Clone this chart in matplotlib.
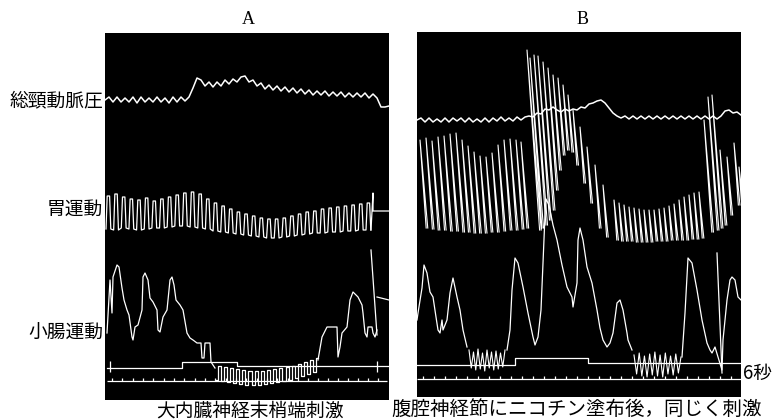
import numpy as np
import matplotlib.pyplot as plt

plt.rcParams['font.family'] = ['Noto Sans CJK JP', 'DejaVu Sans']

W, H = 774, 420
INK = 'white'

# x = position along the drum record, y = pen height on the record

# ---------------- A: 大内臓神経末梢端刺激 ----------------
bp_a = [100, 97, 102, 97, 102, 98, 102, 97, 103, 97, 102, 98, 102, 97, 102, 98, 103, 97, 102, 97, 101,
        97, 88, 78, 80, 86, 82, 87, 82, 86, 80, 84, 79, 82, 77, 76, 82, 80, 86, 83, 89, 85, 90, 86, 91,
        87, 92, 88, 93, 89, 94, 90, 95, 91, 95, 91, 96, 92, 96, 92, 97, 93, 97, 93, 97, 93, 98, 94, 98,
        107, 107, 106]
bp_a_span = (105, 389)

stomach_a_top = [196, 194, 197, 199, 200, 198, 201, 199, 197, 195, 193, 192,
                 194, 199, 203, 206, 209, 212,
                 214, 216, 218, 219, 219, 218, 216, 214,
                 212, 211, 209, 208, 207, 206, 205, 204, 203]
stomach_a_bottom = [229, 230, 228, 229, 230, 229, 228, 228, 227, 226, 226, 227,
                    228, 229, 231, 232, 233, 234,
                    235, 236, 237, 238, 238, 237, 236, 235,
                    234, 233, 233, 232, 232, 231, 231, 230, 230]
stomach_a_span = (106, 366)
stomach_a_tail_x = [371, 373, 373, 389]
stomach_a_tail_y = [230, 193, 211, 211]

intestine_a_x = [107, 110, 112, 113, 117, 119, 122, 124, 127, 129, 132, 133, 135, 138, 142, 143, 145,
                 148, 150, 153, 157, 158, 160, 163, 167, 170, 172, 174, 176, 180, 183, 187, 190, 193,
                 197, 201, 202, 204, 205, 210, 211, 213, 215]
intestine_a_y = [333, 280, 313, 277, 265, 267, 288, 300, 310, 315, 337, 340, 327, 325, 310, 277, 273,
                 280, 298, 302, 310, 330, 332, 317, 310, 280, 277, 285, 300, 305, 310, 333, 338, 340,
                 343, 343, 358, 358, 343, 343, 362, 365, 368]
intestine_a_osc = [380, 366, 381, 367, 382, 368, 383, 369, 384, 370, 385, 371, 385, 371, 385, 371, 384,
                   370, 383, 369, 382, 368, 381, 367, 380, 366, 378, 364, 376, 362, 374, 360, 372, 358]
intestine_a_osc_span = (216, 318)
intestine_a_x2 = [318, 322, 327, 337, 338, 340, 342, 347, 350, 353, 358, 362, 363, 365, 367, 368, 372,
                  373, 375, 377]
intestine_a_y2 = [360, 337, 327, 327, 357, 347, 333, 327, 300, 292, 297, 305, 313, 333, 337, 327, 327,
                  333, 337, 330]
intestine_a_pen_x = [371, 377]
intestine_a_pen_y = [250, 335]
intestine_a_tail_x = [377, 381, 389]
intestine_a_tail_y = [297, 298, 300]

signal_a_x = [107, 182, 182, 237, 237, 389]
signal_a_y = [368, 368, 362, 362, 366, 366]
signal_a_marks = [110, 377]
time_a_ticks = [112, 122, 133, 143, 153, 164, 174, 184, 195, 205, 215, 226, 236, 246, 257, 267, 277,
                288, 298, 308, 318, 328, 338, 348, 358, 368, 378]

# ---------------- B: 腹腔神経節にニコチン塗布後 ----------------
bp_b = [120, 118, 122, 118, 122, 119, 122, 118, 122, 118, 121, 118, 122, 118, 122, 119, 122, 118, 122,
        118, 121, 117, 121, 118, 121, 117, 120, 117,
        116, 117, 113, 114, 109, 110, 107, 110, 112, 109, 111, 109, 110, 107, 108, 104, 103, 101, 100,
        103, 108, 113, 116, 118, 116, 119, 116, 119, 116, 119, 116, 119, 116, 119, 116, 119, 116, 119,
        116, 119, 116, 119, 116, 119, 116, 119, 116, 119, 116, 111, 110, 113, 112, 115]
bp_b_span = (417, 741)

# stomach strokes: time of each contraction peak, peak height, relaxed height
stomach_b_t = [420, 426, 432, 438, 444, 450, 456, 462, 468, 474, 480, 486, 492, 498, 504, 510, 516, 521,
               527, 530, 534, 538, 543, 548, 553, 558, 563, 568, 573, 580, 587, 595, 603,
               614, 619, 624, 629, 634, 639, 644, 649, 654, 659, 664, 669, 674, 679, 684, 689, 694, 699,
               704, 708, 712, 720, 727, 734, 739]
stomach_b_top = [140, 138, 141, 137, 136, 134, 133, 140, 146, 152, 156, 157, 153, 145, 140, 139, 140, 142,
                 50, 58, 55, 56, 62, 68, 75, 78, 85, 95, 110, 127, 147, 165, 185,
                 200, 203, 205, 207, 208, 209, 210, 210, 210, 209, 208, 206, 204, 200, 197, 195, 193, 192,
                 120, 97, 95, 150, 157, 143, 167]
stomach_b_bottom = [228, 229, 230, 230, 231, 231, 232, 232, 233, 233, 233, 232, 232, 231, 230, 230, 229, 228,
                    230, 228, 225, 220, 210, 190, 170, 155, 150, 152, 165, 183, 203, 228, 237,
                    240, 241, 241, 241, 242, 242, 242, 242, 241, 241, 241, 240, 240, 240, 240, 239, 239, 238,
                    232, 230, 228, 225, 215, 205, 200]

intestine_b_x1 = [417, 418, 422, 424, 427, 430, 433, 436, 438, 440, 442, 443, 447, 450, 453, 457, 460,
                  463, 467]
intestine_b_y1 = [320, 313, 288, 265, 273, 292, 297, 317, 330, 333, 320, 330, 320, 293, 278, 297, 310,
                  330, 347]
intestine_b_osc1 = [350, 368, 352, 370, 349, 369, 353, 371, 350, 368, 352, 370, 351, 369, 353, 367, 350]
intestine_b_osc1_span = (469, 505)
intestine_b_x2 = [507, 510, 512, 515, 518, 523, 528, 533, 535, 538, 541, 543, 545, 546, 549, 553, 557,
                  562, 567, 572, 573, 577, 578, 580, 583, 587, 592, 597, 600, 603, 607, 610, 613, 617,
                  620, 623, 627, 628, 632]
intestine_b_y2 = [350, 330, 290, 258, 263, 287, 313, 337, 345, 337, 310, 263, 215, 199, 205, 225, 240,
                  265, 287, 297, 307, 283, 240, 228, 240, 267, 283, 310, 328, 340, 347, 343, 333, 303,
                  300, 310, 333, 340, 350]
intestine_b_osc2 = [355, 374, 353, 376, 356, 377, 354, 375, 352, 376, 355, 377, 353, 374, 356, 375, 354,
                    373, 357]
intestine_b_osc2_span = (634, 681)
intestine_b_x3 = [682, 685, 688, 692, 697, 702, 707, 710, 712, 715, 718, 722, 723, 727, 730, 732, 735,
                  738, 741]
intestine_b_y3 = [357, 313, 258, 263, 290, 320, 343, 350, 353, 347, 357, 370, 340, 300, 280, 277, 280,
                  297, 300]
intestine_b_pen_x = [717, 722]
intestine_b_pen_y = [253, 373]

signal_b_x = [417, 515, 515, 588, 588, 741]
signal_b_y = [365, 365, 358, 358, 363, 363]
time_b_ticks = [423, 434, 445, 456, 467, 478, 489, 500, 511, 522, 533, 544, 555, 566, 577, 588, 599,
                610, 621, 632, 643, 654, 665, 676, 687, 698, 709, 720, 731]

fig = plt.figure(figsize=(W / 100, H / 100), dpi=100)
fig.patch.set_facecolor('white')


def record_axes(left, right, top, bottom):
    ax = fig.add_axes([left / W, 1 - bottom / H, (right - left) / W, (bottom - top) / H])
    ax.set_facecolor('black')
    ax.set_xlim(left, right)
    ax.set_ylim(bottom, top)
    ax.set_xticks([])
    ax.set_yticks([])
    for s in ax.spines.values():
        s.set_visible(False)
    return ax


def trace(ax, x, y, lw=0.9, **kw):
    ax.plot(x, y, color=INK, lw=lw, **kw)


def time_marker(ax, x0, x1, y, ticks):
    ax.hlines(y, x0, x1, color=INK, lw=0.9)
    ax.vlines(ticks, y - 3, y, color=INK, lw=0.9)


# ---- panel A ----
axA = record_axes(105, 389, 33, 400)
trace(axA, np.linspace(*bp_a_span, len(bp_a)), bp_a, lw=1.1)

# stomach contractions: quick rise, short plateau, quick fall
ax_, ay_ = [], []
for t, top, bot in zip(np.linspace(*stomach_a_span, len(stomach_a_top)), stomach_a_top, stomach_a_bottom):
    ax_ += [t, t + 1.2, t + 3.6, t + 4.8]
    ay_ += [bot, top, top, bot]
trace(axA, ax_, ay_)
trace(axA, stomach_a_tail_x, stomach_a_tail_y)

trace(axA, intestine_a_x, intestine_a_y)
trace(axA, np.linspace(*intestine_a_osc_span, len(intestine_a_osc)), intestine_a_osc,
      drawstyle='steps-mid')
trace(axA, intestine_a_x2, intestine_a_y2)
trace(axA, intestine_a_pen_x, intestine_a_pen_y)
trace(axA, intestine_a_tail_x, intestine_a_tail_y)

trace(axA, signal_a_x, signal_a_y)
axA.vlines(signal_a_marks, 361, 372, color=INK, lw=0.9)
time_marker(axA, 107, 387, 381, time_a_ticks)

# ---- panel B ----
axB = record_axes(417, 741, 32, 397)
trace(axB, np.linspace(*bp_b_span, len(bp_b)), bp_b, lw=1.1)

# each contraction is a thin loop leaning a little (the lever swings on an arc);
# the slow return along the bottom does not show on the smoked paper
sx, sy = [], []
for t, top, bot in zip(stomach_b_t, stomach_b_top, stomach_b_bottom):
    lean = 0.07 * (bot - top)
    sx += [t + lean, t, t + lean + 1.6, np.nan]
    sy += [bot, top, bot, np.nan]
trace(axB, sx, sy, lw=0.8)

trace(axB, intestine_b_x1, intestine_b_y1)
trace(axB, np.linspace(*intestine_b_osc1_span, len(intestine_b_osc1)), intestine_b_osc1, lw=0.8)
trace(axB, intestine_b_x2, intestine_b_y2)
trace(axB, np.linspace(*intestine_b_osc2_span, len(intestine_b_osc2)), intestine_b_osc2, lw=0.8)
trace(axB, intestine_b_x3, intestine_b_y3)
trace(axB, intestine_b_pen_x, intestine_b_pen_y)

trace(axB, signal_b_x, signal_b_y)
time_marker(axB, 417, 741, 379, time_b_ticks)

# ---- text ----
def px_text(x, y, s, **kw):
    fig.text(x / W, 1 - y / H, s, va='center', **kw)


serif = ['Liberation Serif', 'DejaVu Serif']
px_text(248, 20, 'A', ha='center', fontsize=13, family=serif)
px_text(583, 20, 'B', ha='center', fontsize=13, family=serif)

px_text(103, 101, '総頸動脈圧', ha='right', fontsize=13.5)
px_text(103, 209, '胃運動', ha='right', fontsize=13.5)
px_text(103, 333, '小腸運動', ha='right', fontsize=13.5)
px_text(743, 373, '6秒', ha='left', fontsize=13.5)

px_text(250, 411, '大内臓神経末梢端刺激', ha='center', fontsize=13.5)
px_text(577, 409, '腹腔神経節にニコチン塗布後，同じく刺激', ha='center', fontsize=14)

fig.savefig('out.png', dpi=100, facecolor='white')
